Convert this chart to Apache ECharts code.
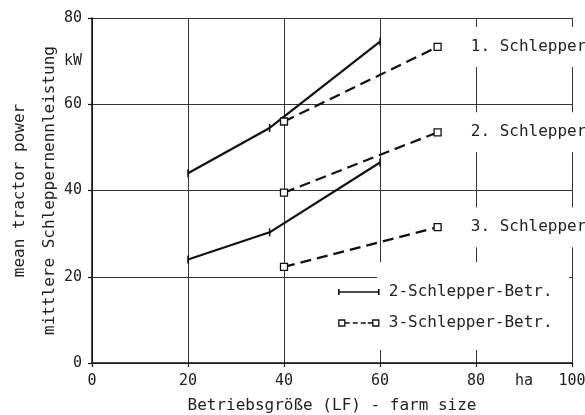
<!DOCTYPE html>
<html><head><meta charset="utf-8">
<script src="https://cdn.jsdelivr.net/npm/echarts@6/dist/echarts.min.js"></script>
<style>html,body{margin:0;padding:0;background:#fff}#c{width:585px;height:415px}</style>
</head><body><div id="c"></div>
<script>
// ---- data ----
const xTickStep = 20;
const yTickStep = 20;
const xUnit = 'ha';   // shown at x = 90
const yUnit = 'kW';   // shown at y = 70
const twoX = [20, 37, 60];
const twoUpper = [44, 54.5, 74.5];
const twoLower = [24, 30.3, 46.5];
const threeX = [40, 72];
const three1 = [56, 73.3];
const three2 = [39.5, 53.5];
const three3 = [22.3, 31.5];
const threeLabels = ['1. Schlepper', '2. Schlepper', '3. Schlepper'];
const legendNames = ['2-Schlepper-Betr.', '3-Schlepper-Betr.'];
const xName = 'Betriebsgröße (LF) - farm size';
const yName = 'mean tractor power\nmittlere Schleppernennleistung';

const FONT = '"DejaVu Sans Mono", "Liberation Mono", monospace';
const INK = '#111';
const TXT = '#222';

function pairs(xs, ys) { return xs.map((x, i) => [x, ys[i]]); }

function solidSeries(ys) {
  return {
    type: 'line', name: legendNames[0], xAxisIndex: 0, yAxisIndex: 0,
    data: pairs(twoX, ys),
    symbol: 'rect', symbolSize: [1.5, 8],
    itemStyle: { color: INK },
    lineStyle: { color: INK, width: 2.2 },
    z: 3
  };
}
function dashedSeries(ys, label) {
  const d = pairs(threeX, ys).map((p, i, arr) => {
    if (i !== arr.length - 1) return { value: p };
    return {
      value: p,
      label: {
        show: true, position: 'right', distance: 27,
        formatter: label, color: TXT, fontFamily: FONT, fontSize: 16,
        backgroundColor: '#fff', padding: [12, 2]
      }
    };
  });
  return {
    type: 'line', name: legendNames[1], xAxisIndex: 0, yAxisIndex: 0,
    data: d,
    symbol: 'rect', symbolSize: 7,
    itemStyle: { color: '#fff', borderColor: INK, borderWidth: 1.3 },
    lineStyle: { color: INK, width: 2.2, type: [11, 6] },
    z: 3
  };
}

const chart = echarts.init(document.getElementById('c'), null, { renderer: 'canvas' });
chart.setOption({
  animation: false,
  backgroundColor: '#fff',
  grid: { left: 92, right: 13, top: 18, bottom: 52, containLabel: false, outerBoundsMode: 'none' },
  graphic: [{
    type: 'rect', left: 377, top: 262, z: 1,
    shape: { width: 192, height: 88 }, style: { fill: '#fff' }
  }],
  legend: {
    orient: 'vertical', left: 338, top: 284, padding: 0,
    itemWidth: 40, itemHeight: 6, itemGap: 15,
    textStyle: { color: TXT, fontFamily: FONT, fontSize: 16, lineHeight: 16, padding: [0, 0, 0, 5] },
    data: [
      { name: legendNames[0], icon: 'path://M0,3H40M0,0V6M40,0V6',
        itemStyle: { color: '#fff', borderColor: INK, borderWidth: 1.6 } },
      { name: legendNames[1], icon: 'path://M0,0h6v6h-6zM6,3h5M14,3h5M22,3h5M29,3h5M34,0h6v6h-6z',
        itemStyle: { color: '#fff', borderColor: INK, borderWidth: 1.3 } }
    ]
  },
  xAxis: [{
    type: 'value', min: 0, max: 100, interval: xTickStep, position: 'bottom',
    name: xName, nameLocation: 'middle', nameGap: 35, nameMoveOverlap: false,
    nameTextStyle: { color: TXT, fontFamily: FONT, fontSize: 16 },
    axisLine: { lineStyle: { color: INK, width: 1.5 } },
    axisTick: { show: true, length: 4, lineStyle: { color: INK, width: 1.2 } },
    axisLabel: { color: TXT, fontFamily: FONT, fontSize: 15, margin: 11 },
    splitLine: { show: true, lineStyle: { color: '#333', width: 1 } }
  }, {
    type: 'value', min: 0, max: 100, interval: 10, position: 'bottom',
    axisLine: { show: false }, axisTick: { show: false }, splitLine: { show: false },
    axisLabel: { color: TXT, fontFamily: FONT, fontSize: 15, margin: 11,
      formatter: v => (v === 90 ? xUnit : '') }
  }],
  yAxis: [{
    type: 'value', min: 0, max: 80, interval: yTickStep, position: 'left',
    name: yName, nameLocation: 'middle', nameGap: 27, nameRotate: 90, nameMoveOverlap: false,
    nameTextStyle: { color: TXT, fontFamily: FONT, fontSize: 16, lineHeight: 30 },
    axisLine: { show: true, lineStyle: { color: INK, width: 1.5 } },
    axisTick: { show: true, length: 4, lineStyle: { color: INK, width: 1.2 } },
    axisLabel: { color: TXT, fontFamily: FONT, fontSize: 15, margin: 10 },
    splitLine: { show: true, lineStyle: { color: '#333', width: 1 } }
  }, {
    type: 'value', min: 0, max: 80, interval: 10, position: 'left',
    axisLine: { show: false }, axisTick: { show: false }, splitLine: { show: false },
    axisLabel: { color: TXT, fontFamily: FONT, fontSize: 15, margin: 10,
      formatter: v => (v === 70 ? yUnit : '') }
  }],
  series: [
    solidSeries(twoUpper),
    solidSeries(twoLower),
    dashedSeries(three1, threeLabels[0]),
    dashedSeries(three2, threeLabels[1]),
    dashedSeries(three3, threeLabels[2])
  ]
});
</script>
</body></html>
